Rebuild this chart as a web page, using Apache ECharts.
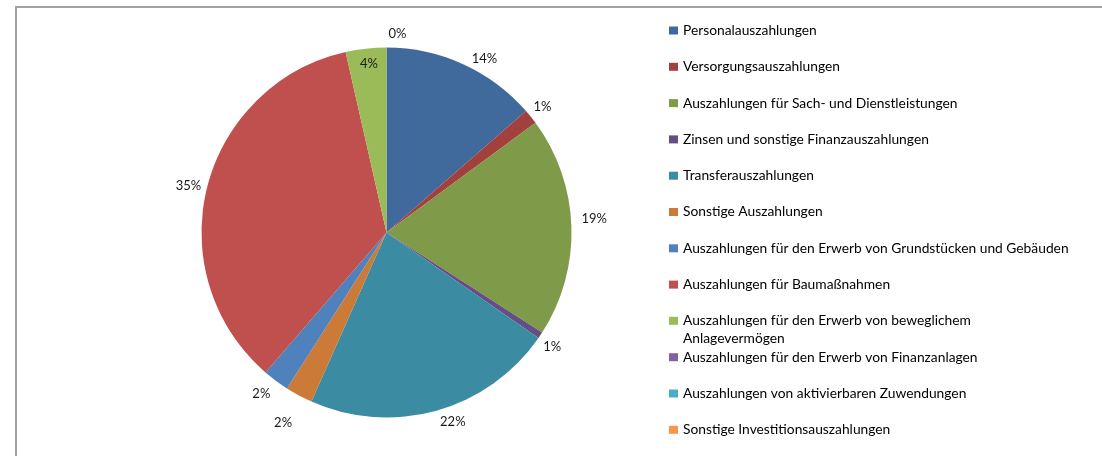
<!DOCTYPE html>
<html><head><meta charset="utf-8">
<script src="https://cdn.jsdelivr.net/npm/echarts@6/dist/echarts.min.js"></script>
<style>html,body{margin:0;padding:0;background:#fff}#c{width:1102px;height:456px}</style>
</head><body><div id="c"></div>
<script>
const categories = [
  'Personalauszahlungen',
  'Versorgungsauszahlungen',
  'Auszahlungen für Sach- und Dienstleistungen',
  'Zinsen und sonstige Finanzauszahlungen',
  'Transferauszahlungen',
  'Sonstige Auszahlungen',
  'Auszahlungen für den Erwerb von Grundstücken und Gebäuden',
  'Auszahlungen für Baumaßnahmen',
  'Auszahlungen für den Erwerb von beweglichem Anlagevermögen',
  'Auszahlungen für den Erwerb von Finanzanlagen',
  'Auszahlungen von aktivierbaren Zuwendungen',
  'Sonstige Investitionsauszahlungen'
];
// shares in percent
const values = [13.6, 1.3, 19.2, 0.55, 22.0, 2.4, 2.3, 35.1, 3.55, 0, null, null];
const colors = ['#40699C', '#A2403D', '#7F9A49', '#654E84', '#3B8CA3', '#CB7A38',
                '#4F81BD', '#C0504D', '#9BBB59', '#8064A2', '#4BACC6', '#F79646'];

const FONT = 'Lato';
const labelShift = { 1: [-8, -6], 2: [-2, -8], 3: [-8, 8], 4: [-4, 5], 5: [2, 22], 6: [4, 8], 7: [6, 0], 8: [-7, -74], 9: [26, -8] };

const seriesData = categories.map((name, i) => {
  const d = { name: name, value: values[i] == null ? '-' : values[i], itemStyle: { color: colors[i] } };
  if (i === 8) d.label = { position: 'inside' };
  return d;
});

const legendText = { color: '#000', fontFamily: FONT, fontSize: 13.8, lineHeight: 18 };
const legendBase = {
  orient: 'vertical', left: 669, padding: 0, itemWidth: 9, itemHeight: 8,
  itemGap: 18.3, icon: 'rect', textStyle: legendText, selectedMode: true
};

const chart = echarts.init(document.getElementById('c'), null, { renderer: 'canvas' });
chart.setOption({
  animation: false,
  backgroundColor: '#fff',
  color: colors,
  graphic: [{
    type: 'rect', silent: true, z: -1,
    shape: { x: 16, y: 7, width: 1200, height: 600 },
    style: { fill: null, stroke: '#a0a0a0', lineWidth: 2 }
  }],
  legend: [
    Object.assign({}, legendBase, { top: 21.5, data: categories.slice(0, 8) }),
    Object.assign({}, legendBase, {
      top: 293.8, data: [categories[8]],
      formatter: () => '\nAuszahlungen für den Erwerb von beweglichem\nAnlagevermögen'
    }),
    Object.assign({}, legendBase, { top: 348.2, data: categories.slice(9) })
  ],
  series: [{
    type: 'pie',
    center: [386.5, 232.5],
    radius: 185,
    startAngle: 90,
    clockwise: true,
    avoidLabelOverlap: false,
    data: seriesData,
    label: {
      show: true, position: 'outside', color: '#1a1a1a', fontFamily: FONT, fontSize: 13,
      distanceToLabelLine: 4,
      formatter: p => (p.value === '-' || p.value == null || isNaN(p.value)) ? '' : Math.round(p.percent) + '%'
    },
    labelLine: { show: false, length: 6, length2: 2 },
    labelLayout: function (params) {
      const s = labelShift[params.dataIndex];
      return s ? { dx: s[0], dy: s[1] } : {};
    },
    emphasis: { disabled: true }
  }]
});
</script></body></html>
